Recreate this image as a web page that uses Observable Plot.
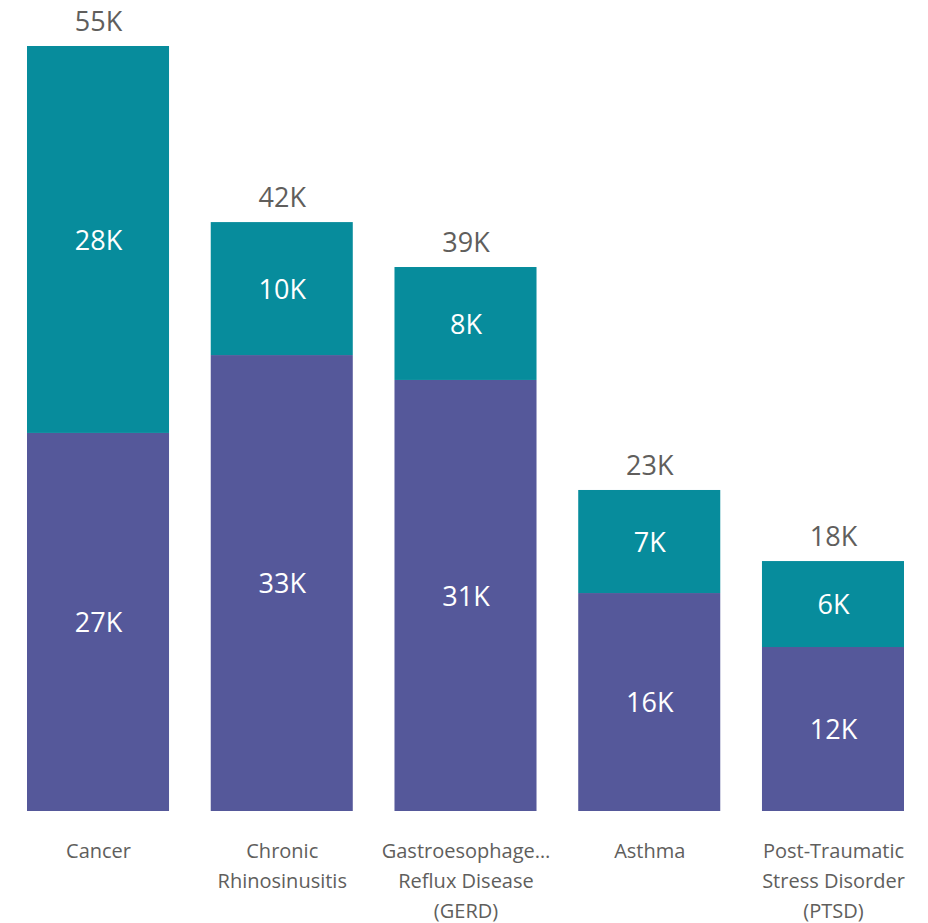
<!DOCTYPE html>
<html>
<head>
<meta charset="utf-8">
<script src="https://cdn.jsdelivr.net/npm/d3@7"></script>
<script src="https://cdn.jsdelivr.net/npm/@observablehq/plot@0.6"></script>
<style>
  html, body { margin: 0; padding: 0; background: #fff; }
  #chart { width: 928px; height: 923px; }
</style>
</head>
<body>
<div id="chart"></div>
<script>
const categories = ["Cancer", "Chronic Rhinosinusitis", "Gastroesophageal Reflux Disease (GERD)", "Asthma", "Post-Traumatic Stress Disorder (PTSD)"];
const tickLabels = ["Cancer", "Chronic\nRhinosinusitis", "Gastroesophage…\nReflux Disease\n(GERD)", "Asthma", "Post-Traumatic\nStress Disorder\n(PTSD)"];
const seriesNames = ["Series 1", "Series 2"];
const series1Values = [27.18, 32.78, 30.99, 15.67, 11.79];
const series2Values = [27.82, 9.56, 8.12, 7.41, 6.18];
const seriesColors = ["#55589A", "#078C9C"];

const data = [];
categories.forEach((c, i) => {
  data.push({category: c, series: seriesNames[0], value: series1Values[i]});
  data.push({category: c, series: seriesNames[1], value: series2Values[i]});
});
const totals = categories.map((c, i) => ({category: c, value: series1Values[i] + series2Values[i]}));
const fmtK = v => `${Math.round(v)}K`;
const labelOf = new Map(categories.map((c, i) => [c, tickLabels[i]]));

const font = "'Open Sans', 'Noto Sans', sans-serif";

const chart = Plot.plot({
  width: 928,
  height: 923,
  marginLeft: 27,
  marginRight: 24,
  marginTop: 46,
  marginBottom: 112,
  style: {fontFamily: font, background: "#fff"},
  x: {domain: categories, paddingInner: 0.227, paddingOuter: 0, round: false, label: null},
  y: {domain: [0, 55], axis: null},
  color: {domain: seriesNames, range: seriesColors},
  marks: [
    Plot.barY(data, {x: "category", y: "value", fill: "series", order: seriesNames}),
    Plot.text(data, Plot.stackY({x: "category", y: "value", z: "series", order: seriesNames,
      text: d => fmtK(d.value), fill: "white", fontSize: 27, dy: 1})),
    Plot.text(totals, {x: "category", y: "value", text: d => fmtK(d.value),
      fill: "#605E5C", fontSize: 27, dy: -24}),
    Plot.axisX({tickSize: 0, tickPadding: 25, fontSize: 20, lineHeight: 1.5,
      tickFormat: c => labelOf.get(c), fill: "#605E5C", label: null})
  ]
});
document.getElementById("chart").appendChild(chart);
</script>
</body>
</html>
